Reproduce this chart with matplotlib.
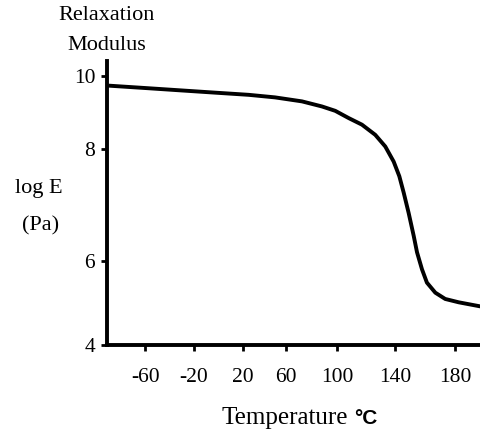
import numpy as np
import matplotlib
matplotlib.use('Agg')
import matplotlib.pyplot as plt

# Relaxation modulus vs temperature
temp = [-89.2, -56.9, -29.7, -2.6, 25.5, 49.6, 72.3, 88.0, 98.4, 107.9, 117.0,
        126.2, 133.1, 138.9, 142.7, 145.6, 148.9, 152.3, 154.5, 157.8, 161.1,
        166.7, 173.3, 182.3, 195.6]
log_e = [9.73, 9.66, 9.60, 9.54, 9.48, 9.41, 9.30, 9.16, 9.04, 8.84, 8.66,
         8.38, 8.06, 7.77, 7.51, 7.22, 6.86, 6.45, 6.16, 5.81, 5.49,
         5.25, 5.10, 5.02, 4.93]

x_ticks = [-60, -20, 20, 60, 100, 140, 180]
y_ticks = [4, 6, 8, 10]

# the original axes are not evenly spaced, so map ticks to where they sit
x_pos = [94.9, 143.3, 191.7, 240.7, 284.3, 335.3, 393.3, 453.3, 513.3]
x_val = [-100, -60, -20, 20, 60, 100, 140, 180, 220]
y_pos = [-84, 0, 84, 197, 270, 343]
y_val = [2, 4, 6, 8, 10, 12]


def xf(v):
    return np.interp(v, x_val, x_pos)


def xi(p):
    return np.interp(p, x_pos, x_val)


def yf(v):
    return np.interp(v, y_val, y_pos)


def yi(p):
    return np.interp(p, y_pos, y_val)


plt.rcParams['font.family'] = 'Liberation Serif'

fig = plt.figure(figsize=(4.8, 4.33), dpi=100)
ax = fig.add_axes([107 / 480, 88 / 433, 373 / 480, 284 / 433])
ax.set_xscale('function', functions=(xf, xi))
ax.set_yscale('function', functions=(yf, yi))

ax.plot(temp, log_e, color='black', linewidth=2.8, solid_joinstyle='round')

ax.set_xlim(-91.7, 196.5)
ax.set_ylim(4, 10.41)
ax.set_xticks(x_ticks)
ax.set_xticklabels([str(t) for t in x_ticks])
ax.set_yticks(y_ticks)
ax.set_yticklabels([str(t) for t in y_ticks])
ax.minorticks_off()

for s in ['top', 'right']:
    ax.spines[s].set_visible(False)
for s in ['left', 'bottom']:
    ax.spines[s].set_linewidth(2.8)
ax.tick_params(axis='both', direction='out', length=4.5, width=2, labelsize=15.5)
ax.tick_params(axis='x', pad=12)
ax.tick_params(axis='y', pad=4)

fig.text(107 / 480, 1 - 16 / 433, 'Relaxation', ha='center', va='center', fontsize=16)
fig.text(107 / 480, 1 - 46 / 433, 'Modulus', ha='center', va='center', fontsize=16)
fig.text(39 / 480, 1 - 188 / 433, 'log E', ha='center', va='center', fontsize=16)
fig.text(41 / 480, 1 - 226 / 433, '(Pa)', ha='center', va='center', fontsize=16)
fig.text(222 / 480, 1 - 424 / 433, 'Temperature', ha='left', va='baseline', fontsize=18)
fig.text(354 / 480, 1 - 424 / 433, '°C', ha='left', va='baseline', fontsize=15,
         family='Liberation Sans', fontweight='bold')

fig.savefig('out.png', dpi=100)
